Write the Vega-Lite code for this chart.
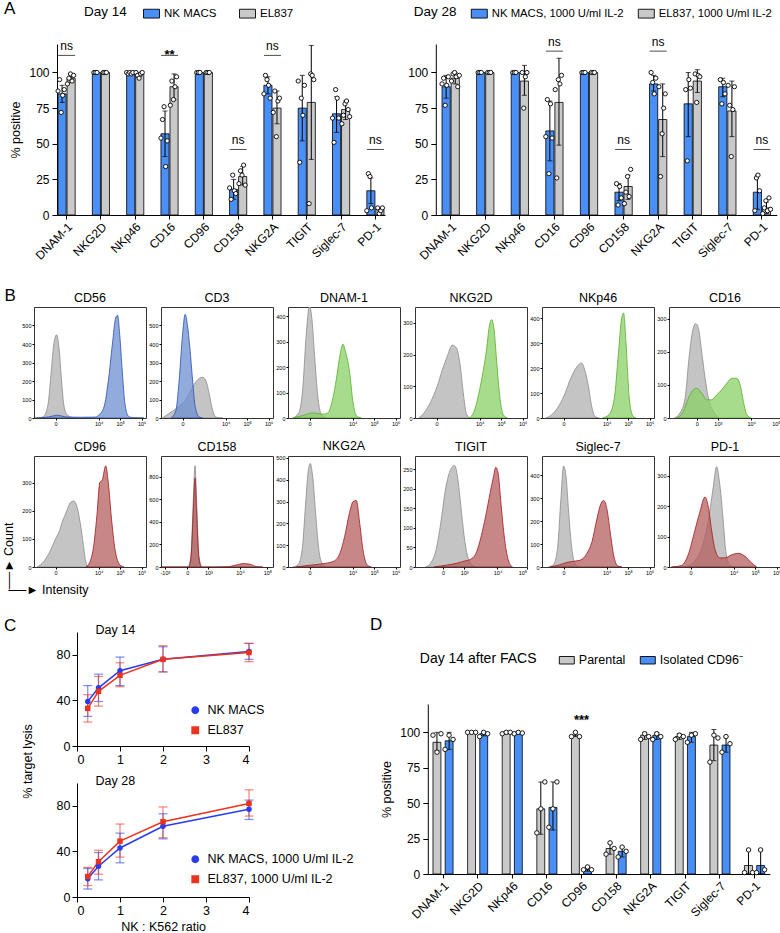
{
"$schema": "https://vega.github.io/schema/vega-lite/v6.json",
"background": "white",
"padding": {"left": 1, "top": 0, "right": 1, "bottom": 0},
"config": {
  "font": "Liberation Sans",
  "view": {"stroke": null},
  "axis": {"grid": false, "domainColor": "black", "tickColor": "black", "labelColor": "black", "titleColor": "black", "titleFontWeight": "normal", "domainWidth": 1, "tickWidth": 1},
  "title": {"fontWeight": "normal", "fontSize": 12.5, "color": "black", "offset": 3},
  "legend": {"titleFontWeight": "normal", "titleColor": "black", "labelColor": "black"}
},
"datasets": {
  "a14": [
    {"m":"DNAM-1","g":"NK","v":85,"lo":79,"hi":91},{"m":"DNAM-1","g":"EL","v":96,"lo":93,"hi":99},
    {"m":"NKG2D","g":"NK","v":100,"lo":100,"hi":100},{"m":"NKG2D","g":"EL","v":100,"lo":100,"hi":100},
    {"m":"NKp46","g":"NK","v":99.7,"lo":99.3,"hi":100},{"m":"NKp46","g":"EL","v":99,"lo":97.5,"hi":100},
    {"m":"CD16","g":"NK","v":57,"lo":41,"hi":73},{"m":"CD16","g":"EL","v":90,"lo":81,"hi":99},
    {"m":"CD96","g":"NK","v":100,"lo":100,"hi":100},{"m":"CD96","g":"EL","v":100,"lo":100,"hi":100},
    {"m":"CD158","g":"NK","v":18,"lo":11,"hi":25},{"m":"CD158","g":"EL","v":27,"lo":21,"hi":34},
    {"m":"NKG2A","g":"NK","v":91,"lo":85,"hi":97},{"m":"NKG2A","g":"EL","v":75,"lo":64,"hi":87},
    {"m":"TIGIT","g":"NK","v":75,"lo":52,"hi":98},{"m":"TIGIT","g":"EL","v":79,"lo":39,"hi":119},
    {"m":"Siglec-7","g":"NK","v":71,"lo":58,"hi":83},{"m":"Siglec-7","g":"EL","v":74,"lo":67,"hi":80},
    {"m":"PD-1","g":"NK","v":17,"lo":8,"hi":26},{"m":"PD-1","g":"EL","v":4,"lo":3,"hi":5}
  ],
  "a14p": [
    {"m":"DNAM-1","g":"NK","r":1,"v":87},{"m":"DNAM-1","g":"NK","r":2,"v":95},{"m":"DNAM-1","g":"NK","r":3,"v":72},{"m":"DNAM-1","g":"NK","r":4,"v":84},{"m":"DNAM-1","g":"NK","r":5,"v":88},
    {"m":"DNAM-1","g":"EL","r":1,"v":92},{"m":"DNAM-1","g":"EL","r":2,"v":96},{"m":"DNAM-1","g":"EL","r":3,"v":99},{"m":"DNAM-1","g":"EL","r":4,"v":94},{"m":"DNAM-1","g":"EL","r":5,"v":98},
    {"m":"NKG2D","g":"NK","r":2,"v":100},{"m":"NKG2D","g":"NK","r":3,"v":100},{"m":"NKG2D","g":"NK","r":4,"v":100},
    {"m":"NKG2D","g":"EL","r":2,"v":100},{"m":"NKG2D","g":"EL","r":3,"v":100},{"m":"NKG2D","g":"EL","r":4,"v":100},
    {"m":"NKp46","g":"NK","r":1,"v":100},{"m":"NKp46","g":"NK","r":2,"v":99},{"m":"NKp46","g":"NK","r":3,"v":100},{"m":"NKp46","g":"NK","r":4,"v":99},{"m":"NKp46","g":"NK","r":5,"v":100},
    {"m":"NKp46","g":"EL","r":1,"v":100},{"m":"NKp46","g":"EL","r":2,"v":98},{"m":"NKp46","g":"EL","r":3,"v":96},{"m":"NKp46","g":"EL","r":4,"v":99},{"m":"NKp46","g":"EL","r":5,"v":100},
    {"m":"CD16","g":"NK","r":1,"v":54},{"m":"CD16","g":"NK","r":2,"v":67},{"m":"CD16","g":"NK","r":3,"v":76},{"m":"CD16","g":"NK","r":4,"v":34},{"m":"CD16","g":"NK","r":5,"v":52},
    {"m":"CD16","g":"EL","r":1,"v":77},{"m":"CD16","g":"EL","r":2,"v":94},{"m":"CD16","g":"EL","r":3,"v":81},{"m":"CD16","g":"EL","r":4,"v":90},{"m":"CD16","g":"EL","r":5,"v":97},
    {"m":"CD96","g":"NK","r":2,"v":100},{"m":"CD96","g":"NK","r":3,"v":100},{"m":"CD96","g":"NK","r":4,"v":100},
    {"m":"CD96","g":"EL","r":2,"v":100},{"m":"CD96","g":"EL","r":3,"v":100},{"m":"CD96","g":"EL","r":4,"v":100},
    {"m":"CD158","g":"NK","r":1,"v":19},{"m":"CD158","g":"NK","r":2,"v":11},{"m":"CD158","g":"NK","r":3,"v":28},{"m":"CD158","g":"NK","r":4,"v":17},{"m":"CD158","g":"NK","r":5,"v":15},
    {"m":"CD158","g":"EL","r":1,"v":22},{"m":"CD158","g":"EL","r":2,"v":31},{"m":"CD158","g":"EL","r":3,"v":28},{"m":"CD158","g":"EL","r":4,"v":35},{"m":"CD158","g":"EL","r":5,"v":21},
    {"m":"NKG2A","g":"NK","r":1,"v":85},{"m":"NKG2A","g":"NK","r":2,"v":98},{"m":"NKG2A","g":"NK","r":3,"v":95},{"m":"NKG2A","g":"NK","r":4,"v":91},{"m":"NKG2A","g":"NK","r":5,"v":82},
    {"m":"NKG2A","g":"EL","r":1,"v":72},{"m":"NKG2A","g":"EL","r":2,"v":87},{"m":"NKG2A","g":"EL","r":3,"v":55},{"m":"NKG2A","g":"EL","r":4,"v":80},{"m":"NKG2A","g":"EL","r":5,"v":82},
    {"m":"TIGIT","g":"NK","r":1,"v":94},{"m":"TIGIT","g":"NK","r":2,"v":37},{"m":"TIGIT","g":"NK","r":3,"v":82},{"m":"TIGIT","g":"NK","r":4,"v":70},{"m":"TIGIT","g":"NK","r":5,"v":91},
    {"m":"TIGIT","g":"EL","r":2,"v":8},{"m":"TIGIT","g":"EL","r":3,"v":99},{"m":"TIGIT","g":"EL","r":4,"v":98},{"m":"TIGIT","g":"EL","r":5,"v":95},
    {"m":"Siglec-7","g":"NK","r":1,"v":68},{"m":"Siglec-7","g":"NK","r":2,"v":51},{"m":"Siglec-7","g":"NK","r":3,"v":88},{"m":"Siglec-7","g":"NK","r":4,"v":82},{"m":"Siglec-7","g":"NK","r":5,"v":68},
    {"m":"Siglec-7","g":"EL","r":1,"v":64},{"m":"Siglec-7","g":"EL","r":2,"v":70},{"m":"Siglec-7","g":"EL","r":3,"v":78},{"m":"Siglec-7","g":"EL","r":4,"v":80},{"m":"Siglec-7","g":"EL","r":5,"v":74},{"m":"Siglec-7","g":"EL","r":6,"v":69},
    {"m":"PD-1","g":"NK","r":1,"v":3},{"m":"PD-1","g":"NK","r":2,"v":29},{"m":"PD-1","g":"NK","r":3,"v":27},{"m":"PD-1","g":"NK","r":4,"v":5},
    {"m":"PD-1","g":"EL","r":2,"v":5},{"m":"PD-1","g":"EL","r":3,"v":1},{"m":"PD-1","g":"EL","r":4,"v":3},{"m":"PD-1","g":"EL","r":5,"v":5}
  ],
  "a14s": [
    {"m":"DNAM-1","lab":"ns","v":112},{"m":"CD16","lab":"**","v":112},{"m":"CD158","lab":"ns","v":46},{"m":"NKG2A","lab":"ns","v":112},{"m":"PD-1","lab":"ns","v":46}
  ],
  "a28": [
    {"m":"DNAM-1","g":"NK","v":90,"lo":82,"hi":98},{"m":"DNAM-1","g":"EL","v":96,"lo":92,"hi":100},
    {"m":"NKG2D","g":"NK","v":100,"lo":100,"hi":100},{"m":"NKG2D","g":"EL","v":100,"lo":100,"hi":100},
    {"m":"NKp46","g":"NK","v":100,"lo":100,"hi":100},{"m":"NKp46","g":"EL","v":94,"lo":84,"hi":105},
    {"m":"CD16","g":"NK","v":59,"lo":38,"hi":80},{"m":"CD16","g":"EL","v":79,"lo":49,"hi":110},
    {"m":"CD96","g":"NK","v":100,"lo":100,"hi":100},{"m":"CD96","g":"EL","v":100,"lo":100,"hi":100},
    {"m":"CD158","g":"NK","v":16,"lo":10,"hi":22},{"m":"CD158","g":"EL","v":20,"lo":11,"hi":28},
    {"m":"NKG2A","g":"NK","v":92,"lo":87,"hi":98},{"m":"NKG2A","g":"EL","v":67,"lo":41,"hi":92},
    {"m":"TIGIT","g":"NK","v":78,"lo":55,"hi":100},{"m":"TIGIT","g":"EL","v":94,"lo":86,"hi":102},
    {"m":"Siglec-7","g":"NK","v":90,"lo":83,"hi":96},{"m":"Siglec-7","g":"EL","v":73,"lo":55,"hi":94},
    {"m":"PD-1","g":"NK","v":16,"lo":4,"hi":28},{"m":"PD-1","g":"EL","v":5,"lo":1,"hi":9}
  ],
  "a28p": [
    {"m":"DNAM-1","g":"NK","r":1,"v":92},{"m":"DNAM-1","g":"NK","r":2,"v":96},{"m":"DNAM-1","g":"NK","r":3,"v":77},{"m":"DNAM-1","g":"NK","r":4,"v":91},{"m":"DNAM-1","g":"NK","r":5,"v":97},
    {"m":"DNAM-1","g":"EL","r":1,"v":94},{"m":"DNAM-1","g":"EL","r":2,"v":99},{"m":"DNAM-1","g":"EL","r":3,"v":100},{"m":"DNAM-1","g":"EL","r":4,"v":97},{"m":"DNAM-1","g":"EL","r":5,"v":90},{"m":"DNAM-1","g":"EL","r":6,"v":98},
    {"m":"NKG2D","g":"NK","r":2,"v":100},{"m":"NKG2D","g":"NK","r":3,"v":100},{"m":"NKG2D","g":"NK","r":4,"v":100},
    {"m":"NKG2D","g":"EL","r":2,"v":100},{"m":"NKG2D","g":"EL","r":3,"v":100},{"m":"NKG2D","g":"EL","r":4,"v":100},
    {"m":"NKp46","g":"NK","r":2,"v":100},{"m":"NKp46","g":"NK","r":3,"v":100},{"m":"NKp46","g":"NK","r":4,"v":100},
    {"m":"NKp46","g":"EL","r":2,"v":100},{"m":"NKp46","g":"EL","r":3,"v":75},{"m":"NKp46","g":"EL","r":4,"v":97},{"m":"NKp46","g":"EL","r":5,"v":100},
    {"m":"CD16","g":"NK","r":1,"v":55},{"m":"CD16","g":"NK","r":2,"v":81},{"m":"CD16","g":"NK","r":3,"v":29},{"m":"CD16","g":"NK","r":4,"v":78},{"m":"CD16","g":"NK","r":5,"v":54},
    {"m":"CD16","g":"EL","r":1,"v":88},{"m":"CD16","g":"EL","r":2,"v":26},{"m":"CD16","g":"EL","r":3,"v":95},{"m":"CD16","g":"EL","r":4,"v":92},{"m":"CD16","g":"EL","r":5,"v":98},
    {"m":"CD96","g":"NK","r":2,"v":100},{"m":"CD96","g":"NK","r":3,"v":100},{"m":"CD96","g":"NK","r":4,"v":100},
    {"m":"CD96","g":"EL","r":2,"v":100},{"m":"CD96","g":"EL","r":3,"v":100},{"m":"CD96","g":"EL","r":4,"v":100},
    {"m":"CD158","g":"NK","r":2,"v":22},{"m":"CD158","g":"NK","r":3,"v":7},{"m":"CD158","g":"NK","r":4,"v":20},{"m":"CD158","g":"NK","r":5,"v":12},
    {"m":"CD158","g":"EL","r":1,"v":8},{"m":"CD158","g":"EL","r":2,"v":16},{"m":"CD158","g":"EL","r":3,"v":27},{"m":"CD158","g":"EL","r":4,"v":13},{"m":"CD158","g":"EL","r":5,"v":32},
    {"m":"NKG2A","g":"NK","r":2,"v":100},{"m":"NKG2A","g":"NK","r":3,"v":93},{"m":"NKG2A","g":"NK","r":4,"v":85},{"m":"NKG2A","g":"NK","r":5,"v":96},
    {"m":"NKG2A","g":"EL","r":1,"v":90},{"m":"NKG2A","g":"EL","r":2,"v":27},{"m":"NKG2A","g":"EL","r":3,"v":57},{"m":"NKG2A","g":"EL","r":4,"v":75},{"m":"NKG2A","g":"EL","r":5,"v":85},
    {"m":"TIGIT","g":"NK","r":2,"v":88},{"m":"TIGIT","g":"NK","r":3,"v":38},{"m":"TIGIT","g":"NK","r":4,"v":95},{"m":"TIGIT","g":"NK","r":5,"v":89},
    {"m":"TIGIT","g":"EL","r":2,"v":99},{"m":"TIGIT","g":"EL","r":3,"v":79},{"m":"TIGIT","g":"EL","r":4,"v":98},{"m":"TIGIT","g":"EL","r":5,"v":97},
    {"m":"Siglec-7","g":"NK","r":2,"v":95},{"m":"Siglec-7","g":"NK","r":3,"v":78},{"m":"Siglec-7","g":"NK","r":4,"v":93},{"m":"Siglec-7","g":"NK","r":5,"v":85},
    {"m":"Siglec-7","g":"EL","r":1,"v":91},{"m":"Siglec-7","g":"EL","r":2,"v":77},{"m":"Siglec-7","g":"EL","r":3,"v":41},{"m":"Siglec-7","g":"EL","r":4,"v":74},{"m":"Siglec-7","g":"EL","r":5,"v":90},
    {"m":"PD-1","g":"NK","r":2,"v":3},{"m":"PD-1","g":"NK","r":3,"v":26},{"m":"PD-1","g":"NK","r":4,"v":28},{"m":"PD-1","g":"NK","r":5,"v":17},
    {"m":"PD-1","g":"EL","r":1,"v":1},{"m":"PD-1","g":"EL","r":2,"v":5},{"m":"PD-1","g":"EL","r":3,"v":10},{"m":"PD-1","g":"EL","r":4,"v":3},{"m":"PD-1","g":"EL","r":5,"v":12},{"m":"PD-1","g":"EL","r":6,"v":4}
  ],
  "a28s": [
    {"m":"CD16","lab":"ns","v":115},{"m":"CD158","lab":"ns","v":46},{"m":"NKG2A","lab":"ns","v":115},{"m":"PD-1","lab":"ns","v":46}
  ],
  "d": [
    {"m":"DNAM-1","g":"P","v":93,"lo":87,"hi":100},{"m":"DNAM-1","g":"I","v":94,"lo":88,"hi":100},
    {"m":"NKG2D","g":"P","v":100,"lo":99.5,"hi":100},{"m":"NKG2D","g":"I","v":99,"lo":97.5,"hi":100},
    {"m":"NKp46","g":"P","v":100,"lo":99,"hi":100},{"m":"NKp46","g":"I","v":100,"lo":99,"hi":100},
    {"m":"CD16","g":"P","v":46,"lo":28,"hi":65},{"m":"CD16","g":"I","v":47,"lo":31,"hi":65},
    {"m":"CD96","g":"P","v":98,"lo":97,"hi":100},{"m":"CD96","g":"I","v":3,"lo":2,"hi":5},
    {"m":"CD158","g":"P","v":18,"lo":14,"hi":22},{"m":"CD158","g":"I","v":16,"lo":12,"hi":19},
    {"m":"NKG2A","g":"P","v":98,"lo":95,"hi":100},{"m":"NKG2A","g":"I","v":98,"lo":95,"hi":100},
    {"m":"TIGIT","g":"P","v":97,"lo":95,"hi":99},{"m":"TIGIT","g":"I","v":97,"lo":93,"hi":100},
    {"m":"Siglec-7","g":"P","v":91,"lo":80,"hi":102},{"m":"Siglec-7","g":"I","v":91,"lo":86,"hi":97},
    {"m":"PD-1","g":"P","v":6,"lo":0,"hi":17},{"m":"PD-1","g":"I","v":6,"lo":0,"hi":17}
  ],
  "dp": [
    {"m":"DNAM-1","g":"P","r":1,"v":98},{"m":"DNAM-1","g":"P","r":2,"v":86},{"m":"DNAM-1","g":"P","r":3,"v":99},
    {"m":"DNAM-1","g":"I","r":1,"v":88},{"m":"DNAM-1","g":"I","r":2,"v":98},{"m":"DNAM-1","g":"I","r":3,"v":95},
    {"m":"NKG2D","g":"P","r":1,"v":100},{"m":"NKG2D","g":"P","r":2,"v":100},{"m":"NKG2D","g":"P","r":3,"v":100},
    {"m":"NKG2D","g":"I","r":1,"v":97},{"m":"NKG2D","g":"I","r":2,"v":100},{"m":"NKG2D","g":"I","r":3,"v":99},
    {"m":"NKp46","g":"P","r":1,"v":99},{"m":"NKp46","g":"P","r":2,"v":100},{"m":"NKp46","g":"P","r":3,"v":100},
    {"m":"NKp46","g":"I","r":1,"v":99},{"m":"NKp46","g":"I","r":2,"v":100},{"m":"NKp46","g":"I","r":3,"v":99.5},
    {"m":"CD16","g":"P","r":1,"v":29},{"m":"CD16","g":"P","r":2,"v":46},{"m":"CD16","g":"P","r":3,"v":65},
    {"m":"CD16","g":"I","r":1,"v":33},{"m":"CD16","g":"I","r":2,"v":46},{"m":"CD16","g":"I","r":3,"v":65},
    {"m":"CD96","g":"P","r":1,"v":97},{"m":"CD96","g":"P","r":2,"v":100},{"m":"CD96","g":"P","r":3,"v":97},
    {"m":"CD96","g":"I","r":1,"v":3},{"m":"CD96","g":"I","r":2,"v":5},{"m":"CD96","g":"I","r":3,"v":3},
    {"m":"CD158","g":"P","r":1,"v":14},{"m":"CD158","g":"P","r":2,"v":22},{"m":"CD158","g":"P","r":3,"v":18},
    {"m":"CD158","g":"I","r":1,"v":12},{"m":"CD158","g":"I","r":2,"v":19},{"m":"CD158","g":"I","r":3,"v":16},
    {"m":"NKG2A","g":"P","r":1,"v":95},{"m":"NKG2A","g":"P","r":2,"v":99},{"m":"NKG2A","g":"P","r":3,"v":97},
    {"m":"NKG2A","g":"I","r":1,"v":95},{"m":"NKG2A","g":"I","r":2,"v":99},{"m":"NKG2A","g":"I","r":3,"v":97},
    {"m":"TIGIT","g":"P","r":1,"v":95},{"m":"TIGIT","g":"P","r":2,"v":98},{"m":"TIGIT","g":"P","r":3,"v":97},
    {"m":"TIGIT","g":"I","r":1,"v":93},{"m":"TIGIT","g":"I","r":2,"v":98},{"m":"TIGIT","g":"I","r":3,"v":99},
    {"m":"Siglec-7","g":"P","r":1,"v":79},{"m":"Siglec-7","g":"P","r":2,"v":98},{"m":"Siglec-7","g":"P","r":3,"v":96},
    {"m":"Siglec-7","g":"I","r":1,"v":86},{"m":"Siglec-7","g":"I","r":2,"v":97},{"m":"Siglec-7","g":"I","r":3,"v":92},
    {"m":"PD-1","g":"P","r":1,"v":1},{"m":"PD-1","g":"P","r":2,"v":17},{"m":"PD-1","g":"P","r":3,"v":1},
    {"m":"PD-1","g":"I","r":1,"v":1},{"m":"PD-1","g":"I","r":2,"v":17},{"m":"PD-1","g":"I","r":3,"v":3}
  ],
  "ds": [{"m":"CD96","lab":"***","v":109}],
  "c14": [
    {"s":"NK","x":0.25,"y":39,"lo":26,"hi":53},{"s":"NK","x":0.5,"y":51,"lo":39,"hi":63},{"s":"NK","x":1,"y":66,"lo":53,"hi":78},{"s":"NK","x":2,"y":76,"lo":65,"hi":87},{"s":"NK","x":4,"y":83,"lo":76,"hi":90},
    {"s":"EL","x":0.25,"y":33,"lo":21,"hi":45},{"s":"EL","x":0.5,"y":48,"lo":35,"hi":61},{"s":"EL","x":1,"y":62,"lo":52,"hi":73},{"s":"EL","x":2,"y":76,"lo":65,"hi":88},{"s":"EL","x":4,"y":82,"lo":74,"hi":90}
  ],
  "c28": [
    {"s":"NK","x":0.25,"y":16,"lo":7,"hi":25},{"s":"NK","x":0.5,"y":27,"lo":15,"hi":39},{"s":"NK","x":1,"y":43,"lo":30,"hi":56},{"s":"NK","x":2,"y":62,"lo":51,"hi":73},{"s":"NK","x":4,"y":77,"lo":68,"hi":85},
    {"s":"EL","x":0.25,"y":18,"lo":10,"hi":26},{"s":"EL","x":0.5,"y":31,"lo":20,"hi":41},{"s":"EL","x":1,"y":49,"lo":35,"hi":64},{"s":"EL","x":2,"y":66,"lo":52,"hi":79},{"s":"EL","x":4,"y":82,"lo":71,"hi":94}
  ],
  "hist": [
    {"m":"CD56","s":"neg","u":-0.78,"n":0},{"m":"CD56","s":"neg","u":-0.54,"n":10},{"m":"CD56","s":"neg","u":-0.34,"n":80},{"m":"CD56","s":"neg","u":-0.2,"n":250},{"m":"CD56","s":"neg","u":-0.08,"n":400},{"m":"CD56","s":"neg","u":0.05,"n":450},{"m":"CD56","s":"neg","u":0.16,"n":380},{"m":"CD56","s":"neg","u":0.28,"n":200},{"m":"CD56","s":"neg","u":0.4,"n":60},{"m":"CD56","s":"neg","u":0.56,"n":15},{"m":"CD56","s":"neg","u":0.85,"n":0},
    {"m":"CD56","s":"pos","u":-0.95,"n":0},{"m":"CD56","s":"pos","u":-0.6,"n":2},{"m":"CD56","s":"pos","u":-0.31,"n":6},{"m":"CD56","s":"pos","u":0.08,"n":15},{"m":"CD56","s":"pos","u":0.54,"n":5},{"m":"CD56","s":"pos","u":1.2,"n":4},{"m":"CD56","s":"pos","u":1.86,"n":5},{"m":"CD56","s":"pos","u":2.0,"n":15},{"m":"CD56","s":"pos","u":2.25,"n":60},{"m":"CD56","s":"pos","u":2.45,"n":200},{"m":"CD56","s":"pos","u":2.64,"n":400},{"m":"CD56","s":"pos","u":2.79,"n":540},{"m":"CD56","s":"pos","u":2.88,"n":555},{"m":"CD56","s":"pos","u":2.98,"n":450},{"m":"CD56","s":"pos","u":3.1,"n":250},{"m":"CD56","s":"pos","u":3.22,"n":80},{"m":"CD56","s":"pos","u":3.38,"n":10},{"m":"CD56","s":"pos","u":3.57,"n":2},{"m":"CD56","s":"pos","u":4.1,"n":0},
    {"m":"CD3","s":"neg","u":-0.93,"n":0},{"m":"CD3","s":"neg","u":-0.62,"n":25},{"m":"CD3","s":"neg","u":-0.31,"n":50},{"m":"CD3","s":"neg","u":0.08,"n":90},{"m":"CD3","s":"neg","u":0.39,"n":150},{"m":"CD3","s":"neg","u":0.59,"n":190},{"m":"CD3","s":"neg","u":0.78,"n":215},{"m":"CD3","s":"neg","u":0.93,"n":220},{"m":"CD3","s":"neg","u":1.09,"n":200},{"m":"CD3","s":"neg","u":1.24,"n":130},{"m":"CD3","s":"neg","u":1.4,"n":40},{"m":"CD3","s":"neg","u":1.55,"n":5},{"m":"CD3","s":"neg","u":1.86,"n":0},
    {"m":"CD3","s":"pos","u":-0.54,"n":0},{"m":"CD3","s":"pos","u":-0.31,"n":40},{"m":"CD3","s":"pos","u":-0.16,"n":200},{"m":"CD3","s":"pos","u":0,"n":450},{"m":"CD3","s":"pos","u":0.12,"n":560},{"m":"CD3","s":"pos","u":0.23,"n":500},{"m":"CD3","s":"pos","u":0.34,"n":380},{"m":"CD3","s":"pos","u":0.47,"n":200},{"m":"CD3","s":"pos","u":0.59,"n":60},{"m":"CD3","s":"pos","u":0.78,"n":5},{"m":"CD3","s":"pos","u":0.93,"n":0},
    {"m":"DNAM-1","s":"neg","u":-0.78,"n":0},{"m":"DNAM-1","s":"neg","u":-0.5,"n":20},{"m":"DNAM-1","s":"neg","u":-0.31,"n":120},{"m":"DNAM-1","s":"neg","u":-0.16,"n":320},{"m":"DNAM-1","s":"neg","u":0,"n":440},{"m":"DNAM-1","s":"neg","u":0.12,"n":380},{"m":"DNAM-1","s":"neg","u":0.23,"n":250},{"m":"DNAM-1","s":"neg","u":0.39,"n":80},{"m":"DNAM-1","s":"neg","u":0.54,"n":15},{"m":"DNAM-1","s":"neg","u":0.78,"n":0},
    {"m":"DNAM-1","s":"pos","u":-0.78,"n":0},{"m":"DNAM-1","s":"pos","u":-0.31,"n":10},{"m":"DNAM-1","s":"pos","u":0.16,"n":20},{"m":"DNAM-1","s":"pos","u":0.62,"n":15},{"m":"DNAM-1","s":"pos","u":0.85,"n":20},{"m":"DNAM-1","s":"pos","u":1.09,"n":80},{"m":"DNAM-1","s":"pos","u":1.24,"n":150},{"m":"DNAM-1","s":"pos","u":1.4,"n":240},{"m":"DNAM-1","s":"pos","u":1.55,"n":290},{"m":"DNAM-1","s":"pos","u":1.67,"n":260},{"m":"DNAM-1","s":"pos","u":1.86,"n":180},{"m":"DNAM-1","s":"pos","u":2.02,"n":60},{"m":"DNAM-1","s":"pos","u":2.17,"n":10},{"m":"DNAM-1","s":"pos","u":2.4,"n":0},
    {"m":"NKG2D","s":"neg","u":-0.82,"n":0},{"m":"NKG2D","s":"neg","u":-0.59,"n":15},{"m":"NKG2D","s":"neg","u":-0.28,"n":50},{"m":"NKG2D","s":"neg","u":0.03,"n":100},{"m":"NKG2D","s":"neg","u":0.26,"n":150},{"m":"NKG2D","s":"neg","u":0.5,"n":195},{"m":"NKG2D","s":"neg","u":0.73,"n":230},{"m":"NKG2D","s":"neg","u":0.93,"n":220},{"m":"NKG2D","s":"neg","u":1.09,"n":170},{"m":"NKG2D","s":"neg","u":1.24,"n":80},{"m":"NKG2D","s":"neg","u":1.4,"n":10},{"m":"NKG2D","s":"neg","u":1.58,"n":0},
    {"m":"NKG2D","s":"pos","u":1.5,"n":0},{"m":"NKG2D","s":"pos","u":1.74,"n":20},{"m":"NKG2D","s":"pos","u":1.97,"n":80},{"m":"NKG2D","s":"pos","u":2.17,"n":150},{"m":"NKG2D","s":"pos","u":2.33,"n":220},{"m":"NKG2D","s":"pos","u":2.43,"n":280},{"m":"NKG2D","s":"pos","u":2.56,"n":310},{"m":"NKG2D","s":"pos","u":2.67,"n":280},{"m":"NKG2D","s":"pos","u":2.79,"n":180},{"m":"NKG2D","s":"pos","u":2.95,"n":60},{"m":"NKG2D","s":"pos","u":3.1,"n":10},{"m":"NKG2D","s":"pos","u":3.29,"n":0},
    {"m":"NKp46","s":"neg","u":-0.82,"n":0},{"m":"NKp46","s":"neg","u":-0.59,"n":10},{"m":"NKp46","s":"neg","u":-0.28,"n":40},{"m":"NKp46","s":"neg","u":0.03,"n":90},{"m":"NKp46","s":"neg","u":0.34,"n":160},{"m":"NKp46","s":"neg","u":0.62,"n":205},{"m":"NKp46","s":"neg","u":0.84,"n":220},{"m":"NKp46","s":"neg","u":0.99,"n":190},{"m":"NKp46","s":"neg","u":1.15,"n":130},{"m":"NKp46","s":"neg","u":1.3,"n":50},{"m":"NKp46","s":"neg","u":1.47,"n":5},{"m":"NKp46","s":"neg","u":1.66,"n":0},
    {"m":"NKp46","s":"pos","u":1.81,"n":0},{"m":"NKp46","s":"pos","u":2.12,"n":15},{"m":"NKp46","s":"pos","u":2.36,"n":80},{"m":"NKp46","s":"pos","u":2.54,"n":250},{"m":"NKp46","s":"pos","u":2.7,"n":400},{"m":"NKp46","s":"pos","u":2.79,"n":420},{"m":"NKp46","s":"pos","u":2.9,"n":300},{"m":"NKp46","s":"pos","u":3.05,"n":80},{"m":"NKp46","s":"pos","u":3.21,"n":10},{"m":"NKp46","s":"pos","u":3.36,"n":0},
    {"m":"CD16","s":"neg","u":-1.04,"n":0},{"m":"CD16","s":"neg","u":-0.78,"n":15},{"m":"CD16","s":"neg","u":-0.54,"n":60},{"m":"CD16","s":"neg","u":-0.36,"n":180},{"m":"CD16","s":"neg","u":-0.2,"n":260},{"m":"CD16","s":"neg","u":-0.05,"n":285},{"m":"CD16","s":"neg","u":0.08,"n":270},{"m":"CD16","s":"neg","u":0.23,"n":200},{"m":"CD16","s":"neg","u":0.39,"n":120},{"m":"CD16","s":"neg","u":0.54,"n":60},{"m":"CD16","s":"neg","u":0.78,"n":20},{"m":"CD16","s":"neg","u":1.01,"n":0},
    {"m":"CD16","s":"pos","u":-0.93,"n":0},{"m":"CD16","s":"pos","u":-0.62,"n":20},{"m":"CD16","s":"pos","u":-0.39,"n":60},{"m":"CD16","s":"pos","u":-0.16,"n":85},{"m":"CD16","s":"pos","u":0,"n":90},{"m":"CD16","s":"pos","u":0.23,"n":75},{"m":"CD16","s":"pos","u":0.47,"n":55},{"m":"CD16","s":"pos","u":0.7,"n":55},{"m":"CD16","s":"pos","u":0.93,"n":70},{"m":"CD16","s":"pos","u":1.16,"n":85},{"m":"CD16","s":"pos","u":1.4,"n":105},{"m":"CD16","s":"pos","u":1.63,"n":120},{"m":"CD16","s":"pos","u":1.86,"n":120},{"m":"CD16","s":"pos","u":2.02,"n":100},{"m":"CD16","s":"pos","u":2.17,"n":50},{"m":"CD16","s":"pos","u":2.33,"n":10},{"m":"CD16","s":"pos","u":2.53,"n":0},
    {"m":"CD96","s":"neg","u":-0.85,"n":0},{"m":"CD96","s":"neg","u":-0.54,"n":20},{"m":"CD96","s":"neg","u":-0.23,"n":60},{"m":"CD96","s":"neg","u":0,"n":100},{"m":"CD96","s":"neg","u":0.19,"n":130},{"m":"CD96","s":"neg","u":0.31,"n":160},{"m":"CD96","s":"neg","u":0.47,"n":190},{"m":"CD96","s":"neg","u":0.7,"n":230},{"m":"CD96","s":"neg","u":0.85,"n":235},{"m":"CD96","s":"neg","u":1.01,"n":210},{"m":"CD96","s":"neg","u":1.16,"n":150},{"m":"CD96","s":"neg","u":1.29,"n":80},{"m":"CD96","s":"neg","u":1.4,"n":20},{"m":"CD96","s":"neg","u":1.52,"n":0},
    {"m":"CD96","s":"pos","u":1.4,"n":0},{"m":"CD96","s":"pos","u":1.58,"n":15},{"m":"CD96","s":"pos","u":1.78,"n":80},{"m":"CD96","s":"pos","u":1.94,"n":200},{"m":"CD96","s":"pos","u":2.05,"n":300},{"m":"CD96","s":"pos","u":2.17,"n":310},{"m":"CD96","s":"pos","u":2.33,"n":360},{"m":"CD96","s":"pos","u":2.45,"n":300},{"m":"CD96","s":"pos","u":2.6,"n":170},{"m":"CD96","s":"pos","u":2.79,"n":50},{"m":"CD96","s":"pos","u":3.02,"n":5},{"m":"CD96","s":"pos","u":3.18,"n":0},
    {"m":"CD158","s":"neg","u":0.05,"n":0},{"m":"CD158","s":"neg","u":0.17,"n":100},{"m":"CD158","s":"neg","u":0.28,"n":600},{"m":"CD158","s":"neg","u":0.36,"n":900},{"m":"CD158","s":"neg","u":0.43,"n":600},{"m":"CD158","s":"neg","u":0.54,"n":100},{"m":"CD158","s":"neg","u":0.67,"n":0},
    {"m":"CD158","s":"pos","u":-1.2,"n":0},{"m":"CD158","s":"pos","u":0.05,"n":0},{"m":"CD158","s":"pos","u":0.17,"n":80},{"m":"CD158","s":"pos","u":0.28,"n":500},{"m":"CD158","s":"pos","u":0.36,"n":790},{"m":"CD158","s":"pos","u":0.43,"n":500},{"m":"CD158","s":"pos","u":0.54,"n":80},{"m":"CD158","s":"pos","u":0.67,"n":0},{"m":"CD158","s":"pos","u":1.29,"n":0},{"m":"CD158","s":"pos","u":1.91,"n":3},{"m":"CD158","s":"pos","u":2.22,"n":15},{"m":"CD158","s":"pos","u":2.6,"n":30},{"m":"CD158","s":"pos","u":2.91,"n":25},{"m":"CD158","s":"pos","u":3.22,"n":3},{"m":"CD158","s":"pos","u":3.5,"n":0},
    {"m":"NKG2A","s":"neg","u":-0.78,"n":0},{"m":"NKG2A","s":"neg","u":-0.54,"n":10},{"m":"NKG2A","s":"neg","u":-0.34,"n":80},{"m":"NKG2A","s":"neg","u":-0.19,"n":280},{"m":"NKG2A","s":"neg","u":-0.06,"n":440},{"m":"NKG2A","s":"neg","u":0.03,"n":475},{"m":"NKG2A","s":"neg","u":0.16,"n":400},{"m":"NKG2A","s":"neg","u":0.28,"n":250},{"m":"NKG2A","s":"neg","u":0.43,"n":80},{"m":"NKG2A","s":"neg","u":0.59,"n":15},{"m":"NKG2A","s":"neg","u":0.78,"n":0},
    {"m":"NKG2A","s":"pos","u":-0.62,"n":0},{"m":"NKG2A","s":"pos","u":0,"n":8},{"m":"NKG2A","s":"pos","u":0.62,"n":15},{"m":"NKG2A","s":"pos","u":1.09,"n":25},{"m":"NKG2A","s":"pos","u":1.4,"n":60},{"m":"NKG2A","s":"pos","u":1.63,"n":140},{"m":"NKG2A","s":"pos","u":1.86,"n":250},{"m":"NKG2A","s":"pos","u":2.02,"n":300},{"m":"NKG2A","s":"pos","u":2.17,"n":305},{"m":"NKG2A","s":"pos","u":2.33,"n":200},{"m":"NKG2A","s":"pos","u":2.48,"n":80},{"m":"NKG2A","s":"pos","u":2.67,"n":10},{"m":"NKG2A","s":"pos","u":2.87,"n":0},
    {"m":"TIGIT","s":"neg","u":-0.81,"n":0},{"m":"TIGIT","s":"neg","u":-0.57,"n":10},{"m":"TIGIT","s":"neg","u":-0.34,"n":40},{"m":"TIGIT","s":"neg","u":-0.11,"n":110},{"m":"TIGIT","s":"neg","u":0.12,"n":200},{"m":"TIGIT","s":"neg","u":0.36,"n":250},{"m":"TIGIT","s":"neg","u":0.54,"n":260},{"m":"TIGIT","s":"neg","u":0.7,"n":220},{"m":"TIGIT","s":"neg","u":0.82,"n":160},{"m":"TIGIT","s":"neg","u":0.98,"n":80},{"m":"TIGIT","s":"neg","u":1.13,"n":30},{"m":"TIGIT","s":"neg","u":1.32,"n":8},{"m":"TIGIT","s":"neg","u":1.52,"n":0},
    {"m":"TIGIT","s":"pos","u":-0.42,"n":0},{"m":"TIGIT","s":"pos","u":0.2,"n":5},{"m":"TIGIT","s":"pos","u":0.67,"n":10},{"m":"TIGIT","s":"pos","u":0.98,"n":15},{"m":"TIGIT","s":"pos","u":1.29,"n":20},{"m":"TIGIT","s":"pos","u":1.57,"n":40},{"m":"TIGIT","s":"pos","u":1.78,"n":80},{"m":"TIGIT","s":"pos","u":1.98,"n":130},{"m":"TIGIT","s":"pos","u":2.19,"n":190},{"m":"TIGIT","s":"pos","u":2.34,"n":230},{"m":"TIGIT","s":"pos","u":2.45,"n":255},{"m":"TIGIT","s":"pos","u":2.56,"n":240},{"m":"TIGIT","s":"pos","u":2.68,"n":170},{"m":"TIGIT","s":"pos","u":2.84,"n":80},{"m":"TIGIT","s":"pos","u":3.02,"n":20},{"m":"TIGIT","s":"pos","u":3.22,"n":0},
    {"m":"Siglec-7","s":"neg","u":-0.7,"n":0},{"m":"Siglec-7","s":"neg","u":-0.47,"n":10},{"m":"Siglec-7","s":"neg","u":-0.28,"n":80},{"m":"Siglec-7","s":"neg","u":-0.12,"n":300},{"m":"Siglec-7","s":"neg","u":0,"n":440},{"m":"Siglec-7","s":"neg","u":0.11,"n":400},{"m":"Siglec-7","s":"neg","u":0.23,"n":250},{"m":"Siglec-7","s":"neg","u":0.36,"n":100},{"m":"Siglec-7","s":"neg","u":0.51,"n":20},{"m":"Siglec-7","s":"neg","u":0.7,"n":0},
    {"m":"Siglec-7","s":"pos","u":-0.62,"n":0},{"m":"Siglec-7","s":"pos","u":-0.16,"n":10},{"m":"Siglec-7","s":"pos","u":0.16,"n":20},{"m":"Siglec-7","s":"pos","u":0.47,"n":25},{"m":"Siglec-7","s":"pos","u":0.78,"n":30},{"m":"Siglec-7","s":"pos","u":1.09,"n":60},{"m":"Siglec-7","s":"pos","u":1.32,"n":110},{"m":"Siglec-7","s":"pos","u":1.55,"n":210},{"m":"Siglec-7","s":"pos","u":1.71,"n":270},{"m":"Siglec-7","s":"pos","u":1.86,"n":290},{"m":"Siglec-7","s":"pos","u":2.02,"n":250},{"m":"Siglec-7","s":"pos","u":2.17,"n":150},{"m":"Siglec-7","s":"pos","u":2.33,"n":50},{"m":"Siglec-7","s":"pos","u":2.51,"n":5},{"m":"Siglec-7","s":"pos","u":2.71,"n":0},
    {"m":"PD-1","s":"neg","u":-0.26,"n":0},{"m":"PD-1","s":"neg","u":0.2,"n":20},{"m":"PD-1","s":"neg","u":0.51,"n":60},{"m":"PD-1","s":"neg","u":0.82,"n":150},{"m":"PD-1","s":"neg","u":1.05,"n":260},{"m":"PD-1","s":"neg","u":1.21,"n":330},{"m":"PD-1","s":"neg","u":1.36,"n":270},{"m":"PD-1","s":"neg","u":1.52,"n":150},{"m":"PD-1","s":"neg","u":1.64,"n":50},{"m":"PD-1","s":"neg","u":1.83,"n":5},{"m":"PD-1","s":"neg","u":2.06,"n":0},
    {"m":"PD-1","s":"pos","u":-0.88,"n":0},{"m":"PD-1","s":"pos","u":-0.42,"n":5},{"m":"PD-1","s":"pos","u":-0.11,"n":40},{"m":"PD-1","s":"pos","u":0.2,"n":120},{"m":"PD-1","s":"pos","u":0.43,"n":180},{"m":"PD-1","s":"pos","u":0.67,"n":230},{"m":"PD-1","s":"pos","u":0.82,"n":200},{"m":"PD-1","s":"pos","u":0.98,"n":120},{"m":"PD-1","s":"pos","u":1.13,"n":60},{"m":"PD-1","s":"pos","u":1.36,"n":30},{"m":"PD-1","s":"pos","u":1.6,"n":30},{"m":"PD-1","s":"pos","u":1.91,"n":40},{"m":"PD-1","s":"pos","u":2.22,"n":45},{"m":"PD-1","s":"pos","u":2.53,"n":35},{"m":"PD-1","s":"pos","u":2.81,"n":15},{"m":"PD-1","s":"pos","u":3.07,"n":0}
  ]
},
"columns": 11,
"bounds": "flush",
"align": "each",
"spacing": 0,
"resolve": {"scale": {"fill": "independent", "color": "independent", "shape": "independent", "xOffset": "independent"}},
"concat": [
  {
    "width": 112, "height": 171,
    "title": {"text": "A", "anchor": "start", "frame": "group", "fontSize": 17, "dx": -30, "dy": 16},
    "encoding": {"x": {"field": "m", "type": "nominal", "scale": {"domain": ["DNAM-1","NKG2D","NKp46","CD16","CD96","CD158","NKG2A","TIGIT","Siglec-7","PD-1"], "range": [23, 351], "paddingInner": 0.5, "paddingOuter": 0.03}, "axis": {"title": null, "labelAngle": -45, "labelFontSize": 12, "tickSize": 4, "labelPadding": 2}}},
    "resolve": {"scale": {"xOffset": "independent"}},
    "layer": [
      {"data": {"name": "a14"}, "mark": {"type": "bar", "stroke": "black", "strokeWidth": 0.8},
       "encoding": {"xOffset": {"field": "g", "type": "nominal", "scale": {"domain": ["NK","EL"], "paddingInner": 0.1, "paddingOuter": 0}},
         "y": {"field": "v", "type": "quantitative", "scale": {"domain": [0,120], "nice": false}, "axis": {"values": [0,25,50,75,100], "labelOverlap": false, "title": "% positive", "labelFontSize": 12, "titleFontSize": 12.5, "tickSize": 5, "labelPadding": 3, "titlePadding": 6, "offset": -23}},
         "fill": {"field": "g", "type": "nominal", "scale": {"domain": ["NK","EL"], "range": ["#4a8ff5","#c9c9c9"]},
           "legend": {"orient": "none", "legendX": 50, "legendY": -39, "direction": "horizontal", "title": "Day 14", "titleOrient": "left", "titleFontSize": 13.5, "titlePadding": 16, "labelFontSize": 11.5, "labelOffset": 4, "columnPadding": 20, "symbolType": "M-1,-0.55H1V0.55H-1Z", "symbolSize": 256, "symbolStrokeColor": "black", "symbolStrokeWidth": 0.9, "labelExpr": "datum.label === 'NK' ? 'NK MACS' : 'EL837'"}}}},
      {"data": {"name": "a14"}, "mark": {"type": "rule", "color": "black", "strokeWidth": 1},
       "encoding": {"xOffset": {"field": "g", "type": "nominal", "scale": {"domain": ["NK","EL"], "paddingInner": 0.1, "paddingOuter": 0}},
         "y": {"field": "lo", "type": "quantitative", "scale": {"domain": [0,120], "nice": false}}, "y2": {"field": "hi"}}},
      {"data": {"name": "a14"}, "mark": {"type": "tick", "orient": "horizontal", "size": 5, "thickness": 1, "color": "black"},
       "encoding": {"xOffset": {"field": "g", "type": "nominal", "scale": {"domain": ["NK","EL"], "paddingInner": 0.1, "paddingOuter": 0}},
         "y": {"field": "hi", "type": "quantitative", "scale": {"domain": [0,120], "nice": false}}}},
      {"data": {"name": "a14"}, "mark": {"type": "tick", "orient": "horizontal", "size": 5, "thickness": 1, "color": "black"},
       "encoding": {"xOffset": {"field": "g", "type": "nominal", "scale": {"domain": ["NK","EL"], "paddingInner": 0.1, "paddingOuter": 0}},
         "y": {"field": "lo", "type": "quantitative", "scale": {"domain": [0,120], "nice": false}}}},
      {"data": {"name": "a14p"}, "transform": [{"calculate": "datum.g + '|' + datum.r", "as": "k"}],
       "mark": {"type": "point", "shape": "circle", "filled": true, "fill": "white", "stroke": "black", "strokeWidth": 0.9, "size": 18, "opacity": 1},
       "encoding": {"xOffset": {"field": "k", "type": "nominal", "scale": {"domain": ["NK|1","NK|2","NK|3","NK|4","NK|5","NK|6","EL|1","EL|2","EL|3","EL|4","EL|5","EL|6"], "paddingInner": 0, "paddingOuter": 0}},
         "y": {"field": "v", "type": "quantitative", "scale": {"domain": [0,120], "nice": false}}}},
      {"data": {"name": "a14s"}, "mark": {"type": "tick", "orient": "horizontal", "size": 17, "thickness": 1, "color": "black"},
       "encoding": {"y": {"field": "v", "type": "quantitative", "scale": {"domain": [0,120], "nice": false}}}},
      {"data": {"name": "a14s"}, "transform": [{"filter": "datum.lab === 'ns'"}], "mark": {"type": "text", "baseline": "bottom", "dy": -2, "fontSize": 12},
       "encoding": {"y": {"field": "v", "type": "quantitative", "scale": {"domain": [0,120], "nice": false}}, "text": {"field": "lab"}}},
      {"data": {"name": "a14s"}, "transform": [{"filter": "datum.lab !== 'ns'"}], "mark": {"type": "text", "baseline": "alphabetic", "dy": 4, "fontSize": 13, "fontWeight": "bold"},
       "encoding": {"y": {"field": "v", "type": "quantitative", "scale": {"domain": [0,120], "nice": false}}, "text": {"field": "lab"}}}
    ]
  },
  {"width": 14.4, "height": 263, "data": {"values": []}, "mark": "point"},
  {"width": 1, "height": 1, "data": {"values": []}, "mark": "point"},
  {"width": 1, "height": 1, "data": {"values": []}, "mark": "point"},
  {"width": 1, "height": 1, "data": {"values": []}, "mark": "point"},
  {"width": 1, "height": 1, "data": {"values": []}, "mark": "point"},
  {
    "width": 112, "height": 171,
    "encoding": {"x": {"field": "m", "type": "nominal", "scale": {"domain": ["DNAM-1","NKG2D","NKp46","CD16","CD96","CD158","NKG2A","TIGIT","Siglec-7","PD-1"], "range": [20.8, 361.8], "paddingInner": 0.5, "paddingOuter": 0.18}, "axis": {"title": null, "labelAngle": -45, "labelFontSize": 12, "tickSize": 4, "labelPadding": 2}}},
    "resolve": {"scale": {"xOffset": "independent"}},
    "layer": [
      {"data": {"name": "a28"}, "mark": {"type": "bar", "stroke": "black", "strokeWidth": 0.8},
       "encoding": {"xOffset": {"field": "g", "type": "nominal", "scale": {"domain": ["NK","EL"], "paddingInner": 0.1, "paddingOuter": 0}},
         "y": {"field": "v", "type": "quantitative", "scale": {"domain": [0,120], "nice": false}, "axis": {"values": [0,25,50,75,100], "labelOverlap": false, "title": null, "labelFontSize": 12, "tickSize": 5, "labelPadding": 3, "offset": -20.8}},
         "fill": {"field": "g", "type": "nominal", "scale": {"domain": ["NK","EL"], "range": ["#4a8ff5","#c9c9c9"]},
           "legend": {"orient": "none", "legendX": -1.2, "legendY": -39, "direction": "horizontal", "title": "Day 28", "titleOrient": "left", "titleFontSize": 13.5, "titlePadding": 14, "labelFontSize": 11.3, "labelOffset": 4, "columnPadding": 12, "symbolType": "M-1,-0.55H1V0.55H-1Z", "symbolSize": 256, "symbolStrokeColor": "black", "symbolStrokeWidth": 0.9, "labelExpr": "datum.label === 'NK' ? 'NK MACS, 1000 U/ml IL-2' : 'EL837, 1000 U/ml IL-2'"}}}},
      {"data": {"name": "a28"}, "mark": {"type": "rule", "color": "black", "strokeWidth": 1},
       "encoding": {"xOffset": {"field": "g", "type": "nominal", "scale": {"domain": ["NK","EL"], "paddingInner": 0.1, "paddingOuter": 0}},
         "y": {"field": "lo", "type": "quantitative", "scale": {"domain": [0,120], "nice": false}}, "y2": {"field": "hi"}}},
      {"data": {"name": "a28"}, "mark": {"type": "tick", "orient": "horizontal", "size": 5, "thickness": 1, "color": "black"},
       "encoding": {"xOffset": {"field": "g", "type": "nominal", "scale": {"domain": ["NK","EL"], "paddingInner": 0.1, "paddingOuter": 0}},
         "y": {"field": "hi", "type": "quantitative", "scale": {"domain": [0,120], "nice": false}}}},
      {"data": {"name": "a28"}, "mark": {"type": "tick", "orient": "horizontal", "size": 5, "thickness": 1, "color": "black"},
       "encoding": {"xOffset": {"field": "g", "type": "nominal", "scale": {"domain": ["NK","EL"], "paddingInner": 0.1, "paddingOuter": 0}},
         "y": {"field": "lo", "type": "quantitative", "scale": {"domain": [0,120], "nice": false}}}},
      {"data": {"name": "a28p"}, "transform": [{"calculate": "datum.g + '|' + datum.r", "as": "k"}],
       "mark": {"type": "point", "shape": "circle", "filled": true, "fill": "white", "stroke": "black", "strokeWidth": 0.9, "size": 18, "opacity": 1},
       "encoding": {"xOffset": {"field": "k", "type": "nominal", "scale": {"domain": ["NK|1","NK|2","NK|3","NK|4","NK|5","NK|6","EL|1","EL|2","EL|3","EL|4","EL|5","EL|6"], "paddingInner": 0, "paddingOuter": 0}},
         "y": {"field": "v", "type": "quantitative", "scale": {"domain": [0,120], "nice": false}}}},
      {"data": {"name": "a28s"}, "mark": {"type": "tick", "orient": "horizontal", "size": 17, "thickness": 1, "color": "black"},
       "encoding": {"y": {"field": "v", "type": "quantitative", "scale": {"domain": [0,120], "nice": false}}}},
      {"data": {"name": "a28s"}, "mark": {"type": "text", "baseline": "bottom", "dy": -2, "fontSize": 12},
       "encoding": {"y": {"field": "v", "type": "quantitative", "scale": {"domain": [0,120], "nice": false}}, "text": {"field": "lab"}}}
    ]
  },
  {"width": 1, "height": 1, "data": {"values": []}, "mark": "point"},
  {"width": 1, "height": 1, "data": {"values": []}, "mark": "point"},
  {"width": 1, "height": 1, "data": {"values": []}, "mark": "point"},
  {"width": 1, "height": 1, "data": {"values": []}, "mark": "point"},

  {"width": 112, "height": 111, "view": {"stroke": "#333"}, "title": {"text": "CD56", "dy": 21}, "data": {"name": "hist"}, "transform": [{"filter": "datum.m === 'CD56'"}],
   "encoding": {"x": {"field": "u", "type": "quantitative", "scale": {"domain": [-1.0, 4.2], "nice": false, "zero": false}, "axis": {"values": [0,2,3,4], "labelExpr": "datum.value === 0 ? '0' : datum.value === 2 ? '10⁴' : datum.value === 3 ? '10⁵' : '10⁶'", "title": null, "labelFontSize": 5.5, "tickSize": 2, "labelPadding": 1, "domain": false}},
     "y": {"field": "n", "type": "quantitative", "scale": {"domain": [0, 600], "nice": false}, "axis": {"values": [0,100,200,300,400,500], "labelFontSize": 5.5, "tickSize": 2, "labelPadding": 1, "domain": false, "title": "B", "titleFontSize": 17, "titleAngle": 0, "titleX": -30, "titleY": -20, "titleAlign": "left", "titleBaseline": "top"}}},
   "layer": [
     {"transform": [{"filter": "datum.s === 'neg'"}], "mark": {"type": "area", "interpolate": "monotone", "fill": "#c4c4c4", "stroke": "#8a8a8a", "strokeWidth": 0.8, "clip": true}},
     {"transform": [{"filter": "datum.s === 'pos'"}], "mark": {"type": "area", "interpolate": "monotone", "fill": "#6b8fd0", "fillOpacity": 0.75, "stroke": "#2c4fae", "strokeWidth": 0.8, "clip": true}}
   ]},
  {"width": 14.4, "height": 149, "data": {"values": []}, "mark": "point"},
  {"width": 112, "height": 111, "view": {"stroke": "#333"}, "title": "CD3", "data": {"name": "hist"}, "transform": [{"filter": "datum.m === 'CD3'"}],
   "encoding": {"x": {"field": "u", "type": "quantitative", "scale": {"domain": [-1.0, 4.2], "nice": false, "zero": false}, "axis": {"values": [0,2,3,4], "labelExpr": "datum.value === 0 ? '0' : datum.value === 2 ? '10⁴' : datum.value === 3 ? '10⁵' : '10⁶'", "title": null, "labelFontSize": 5.5, "tickSize": 2, "labelPadding": 1, "domain": false}},
     "y": {"field": "n", "type": "quantitative", "scale": {"domain": [0, 600], "nice": false}, "axis": {"values": [0,100,200,300,400,500], "labelFontSize": 5.5, "tickSize": 2, "labelPadding": 1, "domain": false, "title": null}}},
   "layer": [
     {"transform": [{"filter": "datum.s === 'neg'"}], "mark": {"type": "area", "interpolate": "monotone", "fill": "#c4c4c4", "stroke": "#8a8a8a", "strokeWidth": 0.8, "clip": true}},
     {"transform": [{"filter": "datum.s === 'pos'"}], "mark": {"type": "area", "interpolate": "monotone", "fill": "#6b8fd0", "fillOpacity": 0.75, "stroke": "#2c4fae", "strokeWidth": 0.8, "clip": true}}
   ]},
  {"width": 14.4, "height": 1, "data": {"values": []}, "mark": "point"},
  {"width": 112, "height": 111, "view": {"stroke": "#333"}, "title": "DNAM-1", "data": {"name": "hist"}, "transform": [{"filter": "datum.m === 'DNAM-1'"}],
   "encoding": {"x": {"field": "u", "type": "quantitative", "scale": {"domain": [-1.0, 4.2], "nice": false, "zero": false}, "axis": {"values": [0,2,3,4], "labelExpr": "datum.value === 0 ? '0' : datum.value === 2 ? '10⁴' : datum.value === 3 ? '10⁵' : '10⁶'", "title": null, "labelFontSize": 5.5, "tickSize": 2, "labelPadding": 1, "domain": false}},
     "y": {"field": "n", "type": "quantitative", "scale": {"domain": [0, 436], "nice": false}, "axis": {"values": [0,100,200,300,400], "labelFontSize": 5.5, "tickSize": 2, "labelPadding": 1, "domain": false, "title": null}}},
   "layer": [
     {"transform": [{"filter": "datum.s === 'neg'"}], "mark": {"type": "area", "interpolate": "monotone", "fill": "#c4c4c4", "stroke": "#8a8a8a", "strokeWidth": 0.8, "clip": true}},
     {"transform": [{"filter": "datum.s === 'pos'"}], "mark": {"type": "area", "interpolate": "monotone", "fill": "#88d066", "fillOpacity": 0.75, "stroke": "#54b027", "strokeWidth": 0.8, "clip": true}}
   ]},
  {"width": 14.4, "height": 1, "data": {"values": []}, "mark": "point"},
  {"width": 112, "height": 111, "view": {"stroke": "#333"}, "title": "NKG2D", "data": {"name": "hist"}, "transform": [{"filter": "datum.m === 'NKG2D'"}],
   "encoding": {"x": {"field": "u", "type": "quantitative", "scale": {"domain": [-1.0, 4.2], "nice": false, "zero": false}, "axis": {"values": [0,2,3,4], "labelExpr": "datum.value === 0 ? '0' : datum.value === 2 ? '10⁴' : datum.value === 3 ? '10⁵' : '10⁶'", "title": null, "labelFontSize": 5.5, "tickSize": 2, "labelPadding": 1, "domain": false}},
     "y": {"field": "n", "type": "quantitative", "scale": {"domain": [0, 350], "nice": false}, "axis": {"values": [0,100,200,300], "labelFontSize": 5.5, "tickSize": 2, "labelPadding": 1, "domain": false, "title": null}}},
   "layer": [
     {"transform": [{"filter": "datum.s === 'neg'"}], "mark": {"type": "area", "interpolate": "monotone", "fill": "#c4c4c4", "stroke": "#8a8a8a", "strokeWidth": 0.8, "clip": true}},
     {"transform": [{"filter": "datum.s === 'pos'"}], "mark": {"type": "area", "interpolate": "monotone", "fill": "#88d066", "fillOpacity": 0.75, "stroke": "#54b027", "strokeWidth": 0.8, "clip": true}}
   ]},
  {"width": 14.4, "height": 1, "data": {"values": []}, "mark": "point"},
  {"width": 112, "height": 111, "view": {"stroke": "#333"}, "title": "NKp46", "data": {"name": "hist"}, "transform": [{"filter": "datum.m === 'NKp46'"}],
   "encoding": {"x": {"field": "u", "type": "quantitative", "scale": {"domain": [-1.0, 4.2], "nice": false, "zero": false}, "axis": {"values": [0,2,3,4], "labelExpr": "datum.value === 0 ? '0' : datum.value === 2 ? '10⁴' : datum.value === 3 ? '10⁵' : '10⁶'", "title": null, "labelFontSize": 5.5, "tickSize": 2, "labelPadding": 1, "domain": false}},
     "y": {"field": "n", "type": "quantitative", "scale": {"domain": [0, 444], "nice": false}, "axis": {"values": [0,100,200,300,400], "labelFontSize": 5.5, "tickSize": 2, "labelPadding": 1, "domain": false, "title": null}}},
   "layer": [
     {"transform": [{"filter": "datum.s === 'neg'"}], "mark": {"type": "area", "interpolate": "monotone", "fill": "#c4c4c4", "stroke": "#8a8a8a", "strokeWidth": 0.8, "clip": true}},
     {"transform": [{"filter": "datum.s === 'pos'"}], "mark": {"type": "area", "interpolate": "monotone", "fill": "#88d066", "fillOpacity": 0.75, "stroke": "#54b027", "strokeWidth": 0.8, "clip": true}}
   ]},
  {"width": 14.4, "height": 1, "data": {"values": []}, "mark": "point"},
  {"width": 112, "height": 111, "view": {"stroke": "#333"}, "title": "CD16", "data": {"name": "hist"}, "transform": [{"filter": "datum.m === 'CD16'"}],
   "encoding": {"x": {"field": "u", "type": "quantitative", "scale": {"domain": [-1.29, 3.92], "nice": false, "zero": false}, "axis": {"values": [0,0.98,2.53,3.88], "labelExpr": "datum.value === 0 ? '0' : datum.value < 1.5 ? '10³' : datum.value < 3 ? '10⁴' : '10⁵'", "title": null, "labelFontSize": 5.5, "tickSize": 2, "labelPadding": 1, "domain": false}},
     "y": {"field": "n", "type": "quantitative", "scale": {"domain": [0, 335], "nice": false}, "axis": {"values": [0,100,200,300], "labelFontSize": 5.5, "tickSize": 2, "labelPadding": 1, "domain": false, "title": null}}},
   "layer": [
     {"transform": [{"filter": "datum.s === 'neg'"}], "mark": {"type": "area", "interpolate": "monotone", "fill": "#c4c4c4", "stroke": "#8a8a8a", "strokeWidth": 0.8, "clip": true}},
     {"transform": [{"filter": "datum.s === 'pos'"}], "mark": {"type": "area", "interpolate": "monotone", "fill": "#88d066", "fillOpacity": 0.75, "stroke": "#54b027", "strokeWidth": 0.8, "clip": true}}
   ]},

  {"width": 112, "height": 111, "view": {"stroke": "#333"}, "title": "CD96", "data": {"name": "hist"}, "transform": [{"filter": "datum.m === 'CD96'"}],
   "encoding": {"x": {"field": "u", "type": "quantitative", "scale": {"domain": [-1.0, 4.2], "nice": false, "zero": false}, "axis": {"values": [0,2,3,4], "labelExpr": "datum.value === 0 ? '0' : datum.value === 2 ? '10⁴' : datum.value === 3 ? '10⁵' : '10⁶'", "labelFontSize": 5.5, "tickSize": 2, "labelPadding": 1, "domain": false, "title": "──► Intensity", "titleFontSize": 12.5, "titleX": -26, "titleY": 22, "titleAlign": "left", "titleBaseline": "middle", "titleAngle": 0}},
     "y": {"field": "n", "type": "quantitative", "scale": {"domain": [0, 395], "nice": false}, "axis": {"values": [0,100,200,300], "labelFontSize": 5.5, "tickSize": 2, "labelPadding": 1, "domain": false, "title": "──► Count", "titleFontSize": 12.5, "titleX": -26, "titleY": 133, "titleAlign": "left", "titleBaseline": "middle", "titleAngle": 270}}},
   "layer": [
     {"transform": [{"filter": "datum.s === 'neg'"}], "mark": {"type": "area", "interpolate": "monotone", "fill": "#c4c4c4", "stroke": "#8a8a8a", "strokeWidth": 0.8, "clip": true}},
     {"transform": [{"filter": "datum.s === 'pos'"}], "mark": {"type": "area", "interpolate": "monotone", "fill": "#b65f5f", "fillOpacity": 0.75, "stroke": "#a3161c", "strokeWidth": 0.8, "clip": true}}
   ]},
  {"width": 14.4, "height": 176, "data": {"values": []}, "mark": "point"},
  {"width": 112, "height": 111, "view": {"stroke": "#333"}, "title": "CD158", "data": {"name": "hist"}, "transform": [{"filter": "datum.m === 'CD158'"}],
   "encoding": {"x": {"field": "u", "type": "quantitative", "scale": {"domain": [-1.22, 3.98], "nice": false, "zero": false}, "axis": {"values": [-1.04,0,0.98,2.45,3.72], "labelExpr": "datum.value < -0.5 ? '-10³' : datum.value === 0 ? '0' : datum.value < 1.5 ? '10³' : datum.value < 3 ? '10⁴' : '10⁵'", "title": null, "labelFontSize": 5.5, "tickSize": 2, "labelPadding": 1, "domain": false}},
     "y": {"field": "n", "type": "quantitative", "scale": {"domain": [0, 985], "nice": false}, "axis": {"values": [0,200,400,600,800], "labelFontSize": 5.5, "tickSize": 2, "labelPadding": 1, "domain": false, "title": null}}},
   "layer": [
     {"transform": [{"filter": "datum.s === 'neg'"}], "mark": {"type": "area", "interpolate": "monotone", "fill": "#c4c4c4", "stroke": "#8a8a8a", "strokeWidth": 0.8, "clip": true}},
     {"transform": [{"filter": "datum.s === 'pos'"}], "mark": {"type": "area", "interpolate": "monotone", "fill": "#b65f5f", "fillOpacity": 0.75, "stroke": "#a3161c", "strokeWidth": 0.8, "clip": true}}
   ]},
  {"width": 14.4, "height": 1, "data": {"values": []}, "mark": "point"},
  {"width": 112, "height": 111, "view": {"stroke": "#333"}, "title": "NKG2A", "data": {"name": "hist"}, "transform": [{"filter": "datum.m === 'NKG2A'"}],
   "encoding": {"x": {"field": "u", "type": "quantitative", "scale": {"domain": [-1.0, 4.2], "nice": false, "zero": false}, "axis": {"values": [0,2,3,4], "labelExpr": "datum.value === 0 ? '0' : datum.value === 2 ? '10⁴' : datum.value === 3 ? '10⁵' : '10⁶'", "title": null, "labelFontSize": 5.5, "tickSize": 2, "labelPadding": 1, "domain": false}},
     "y": {"field": "n", "type": "quantitative", "scale": {"domain": [0, 509], "nice": false}, "axis": {"values": [0,100,200,300,400,500], "labelFontSize": 5.5, "tickSize": 2, "labelPadding": 1, "domain": false, "title": null}}},
   "layer": [
     {"transform": [{"filter": "datum.s === 'neg'"}], "mark": {"type": "area", "interpolate": "monotone", "fill": "#c4c4c4", "stroke": "#8a8a8a", "strokeWidth": 0.8, "clip": true}},
     {"transform": [{"filter": "datum.s === 'pos'"}], "mark": {"type": "area", "interpolate": "monotone", "fill": "#b65f5f", "fillOpacity": 0.75, "stroke": "#a3161c", "strokeWidth": 0.8, "clip": true}}
   ]},
  {"width": 14.4, "height": 1, "data": {"values": []}, "mark": "point"},
  {"width": 112, "height": 111, "view": {"stroke": "#333"}, "title": "TIGIT", "data": {"name": "hist"}, "transform": [{"filter": "datum.m === 'TIGIT'"}],
   "encoding": {"x": {"field": "u", "type": "quantitative", "scale": {"domain": [-1.3, 3.9], "nice": false, "zero": false}, "axis": {"values": [0,0.98,2.53,3.88], "labelExpr": "datum.value === 0 ? '0' : datum.value < 1.5 ? '10³' : datum.value < 3 ? '10⁴' : '10⁵'", "title": null, "labelFontSize": 5.5, "tickSize": 2, "labelPadding": 1, "domain": false}},
     "y": {"field": "n", "type": "quantitative", "scale": {"domain": [0, 284], "nice": false}, "axis": {"values": [0,50,100,150,200,250], "labelFontSize": 5.5, "tickSize": 2, "labelPadding": 1, "domain": false, "title": null}}},
   "layer": [
     {"transform": [{"filter": "datum.s === 'neg'"}], "mark": {"type": "area", "interpolate": "monotone", "fill": "#c4c4c4", "stroke": "#8a8a8a", "strokeWidth": 0.8, "clip": true}},
     {"transform": [{"filter": "datum.s === 'pos'"}], "mark": {"type": "area", "interpolate": "monotone", "fill": "#b65f5f", "fillOpacity": 0.75, "stroke": "#a3161c", "strokeWidth": 0.8, "clip": true}}
   ]},
  {"width": 14.4, "height": 1, "data": {"values": []}, "mark": "point"},
  {"width": 112, "height": 111, "view": {"stroke": "#333"}, "title": "Siglec-7", "data": {"name": "hist"}, "transform": [{"filter": "datum.m === 'Siglec-7'"}],
   "encoding": {"x": {"field": "u", "type": "quantitative", "scale": {"domain": [-1.0, 4.2], "nice": false, "zero": false}, "axis": {"values": [0,2,3,4], "labelExpr": "datum.value === 0 ? '0' : datum.value === 2 ? '10⁴' : datum.value === 3 ? '10⁵' : '10⁶'", "title": null, "labelFontSize": 5.5, "tickSize": 2, "labelPadding": 1, "domain": false}},
     "y": {"field": "n", "type": "quantitative", "scale": {"domain": [0, 484], "nice": false}, "axis": {"values": [0,100,200,300,400], "labelFontSize": 5.5, "tickSize": 2, "labelPadding": 1, "domain": false, "title": null}}},
   "layer": [
     {"transform": [{"filter": "datum.s === 'neg'"}], "mark": {"type": "area", "interpolate": "monotone", "fill": "#c4c4c4", "stroke": "#8a8a8a", "strokeWidth": 0.8, "clip": true}},
     {"transform": [{"filter": "datum.s === 'pos'"}], "mark": {"type": "area", "interpolate": "monotone", "fill": "#b65f5f", "fillOpacity": 0.75, "stroke": "#a3161c", "strokeWidth": 0.8, "clip": true}}
   ]},
  {"width": 14.4, "height": 1, "data": {"values": []}, "mark": "point"},
  {"width": 112, "height": 111, "view": {"stroke": "#333"}, "title": "PD-1", "data": {"name": "hist"}, "transform": [{"filter": "datum.m === 'PD-1'"}],
   "encoding": {"x": {"field": "u", "type": "quantitative", "scale": {"domain": [-1.0, 4.2], "nice": false, "zero": false}, "axis": {"values": [0,2,3,4], "labelExpr": "datum.value === 0 ? '0' : datum.value === 2 ? '10⁴' : datum.value === 3 ? '10⁵' : '10⁶'", "title": null, "labelFontSize": 5.5, "tickSize": 2, "labelPadding": 1, "domain": false}},
     "y": {"field": "n", "type": "quantitative", "scale": {"domain": [0, 365], "nice": false}, "axis": {"values": [0,100,200,300], "labelFontSize": 5.5, "tickSize": 2, "labelPadding": 1, "domain": false, "title": null}}},
   "layer": [
     {"transform": [{"filter": "datum.s === 'neg'"}], "mark": {"type": "area", "interpolate": "monotone", "fill": "#c4c4c4", "stroke": "#8a8a8a", "strokeWidth": 0.8, "clip": true}},
     {"transform": [{"filter": "datum.s === 'pos'"}], "mark": {"type": "area", "interpolate": "monotone", "fill": "#b65f5f", "fillOpacity": 0.75, "stroke": "#a3161c", "strokeWidth": 0.8, "clip": true}}
   ]},

  {
    "width": 112, "height": 114,
    "title": {"text": "C", "anchor": "start", "frame": "group", "fontSize": 17, "dx": -30, "dy": 15},
    "data": {"name": "c14"},
    "encoding": {
      "x": {"field": "x", "type": "quantitative", "scale": {"domain": [0,4], "nice": false, "range": [43, 215]}, "axis": {"values": [0,1,2,3,4], "labelFontSize": 12.5, "tickSize": 5, "labelPadding": 2, "title": "Day 14", "titleFontSize": 12.5, "titleX": 61, "titleY": -117, "titleAlign": "left", "titleBaseline": "middle"}},
      "color": {"field": "s", "type": "nominal", "scale": {"domain": ["NK","EL"], "range": ["#283cf0","#eb321e"]},
        "legend": {"orient": "none", "legendX": 155, "legendY": 72, "title": null, "labelFontSize": 12.5, "labelOffset": 6, "rowPadding": 7, "symbolSize": 40, "symbolOpacity": 1, "labelExpr": "datum.label === 'NK' ? 'NK MACS' : 'EL837'"}}
    },
    "layer": [
      {"mark": {"type": "rule", "strokeWidth": 1.2, "opacity": 0.6},
       "encoding": {"y": {"field": "lo", "type": "quantitative", "scale": {"domain": [0,100], "nice": false}, "axis": {"values": [0,20,40,60,80,100], "labelOverlap": false, "labelFontSize": 12.5, "tickSize": 5, "labelPadding": 2, "offset": -43, "title": "% target lysis", "titleFontSize": 12.5, "titleX": -50, "titleY": 129, "titleAlign": "center", "titleBaseline": "middle"}}, "y2": {"field": "hi"}}},
      {"mark": {"type": "tick", "orient": "horizontal", "size": 9, "thickness": 1.2, "opacity": 0.6},
       "encoding": {"y": {"field": "hi", "type": "quantitative", "scale": {"domain": [0,100], "nice": false}}}},
      {"mark": {"type": "tick", "orient": "horizontal", "size": 9, "thickness": 1.2, "opacity": 0.6},
       "encoding": {"y": {"field": "lo", "type": "quantitative", "scale": {"domain": [0,100], "nice": false}}}},
      {"mark": {"type": "line", "strokeWidth": 1.5},
       "encoding": {"y": {"field": "y", "type": "quantitative", "scale": {"domain": [0,100], "nice": false}}}},
      {"mark": {"type": "point", "filled": true, "size": 30, "opacity": 1},
       "encoding": {"y": {"field": "y", "type": "quantitative", "scale": {"domain": [0,100], "nice": false}}, "shape": {"field": "s", "type": "nominal", "scale": {"domain": ["NK","EL"], "range": ["circle","square"]},
         "legend": {"orient": "none", "legendX": 155, "legendY": 72, "title": null, "labelFontSize": 12.5, "labelOffset": 6, "rowPadding": 7, "symbolSize": 40, "symbolOpacity": 1, "labelExpr": "datum.label === 'NK' ? 'NK MACS' : 'EL837'"}}}}
    ]
  },
  {"width": 14.4, "height": 151, "data": {"values": []}, "mark": "point"},
  {"width": 1, "height": 1, "data": {"values": []}, "mark": "point"},
  {"width": 1, "height": 1, "data": {"values": []}, "mark": "point"},
  {"width": 1, "height": 1, "data": {"values": []}, "mark": "point"},
  {"width": 1, "height": 1, "data": {"values": []}, "mark": "point"},
  {
    "width": 112, "height": 151,
    "title": {"text": "D", "anchor": "start", "frame": "group", "fontSize": 17, "dx": -45, "dy": 5},
    "encoding": {"x": {"field": "m", "type": "nominal", "scale": {"domain": ["DNAM-1","NKG2D","NKp46","CD16","CD96","CD158","NKG2A","TIGIT","Siglec-7","PD-1"], "range": [12.8, 354.8], "paddingInner": 0.42, "paddingOuter": 0.15}, "axis": {"title": null, "labelAngle": -45, "labelFontSize": 12, "tickSize": 4, "labelPadding": 2, "offset": 91}}},
    "resolve": {"scale": {"xOffset": "independent"}},
    "layer": [
      {"data": {"name": "d"}, "mark": {"type": "bar", "stroke": "black", "strokeWidth": 0.8},
       "encoding": {"xOffset": {"field": "g", "type": "nominal", "scale": {"domain": ["P","I"], "paddingInner": 0.35, "paddingOuter": 0}},
         "y": {"field": "v", "type": "quantitative", "scale": {"domain": [0,120], "nice": false, "range": [242, 72]}, "axis": {"values": [0,25,50,75,100], "labelOverlap": false, "labelBound": false, "labelFlush": false, "labelSeparation": 0, "title": "% positive", "labelFontSize": 12, "titleFontSize": 12.5, "tickSize": 5, "labelPadding": 3, "titlePadding": 6, "offset": -12.8}},
         "fill": {"field": "g", "type": "nominal", "scale": {"domain": ["P","I"], "range": ["#c9c9c9","#4a8ff5"]},
           "legend": {"orient": "none", "legendX": 4.8, "legendY": 20, "direction": "horizontal", "title": "Day 14 after FACS", "titleOrient": "left", "titleFontSize": 14, "titlePadding": 22, "labelFontSize": 12.5, "labelOffset": 4, "columnPadding": 12, "symbolType": "M-1,-0.5H1V0.5H-1Z", "symbolSize": 225, "symbolStrokeColor": "black", "symbolStrokeWidth": 0.9, "labelExpr": "datum.label === 'P' ? 'Parental' : 'Isolated CD96⁻'"}}}},
      {"data": {"name": "d"}, "mark": {"type": "rule", "color": "black", "strokeWidth": 1},
       "encoding": {"xOffset": {"field": "g", "type": "nominal", "scale": {"domain": ["P","I"], "paddingInner": 0.35, "paddingOuter": 0}},
         "y": {"field": "lo", "type": "quantitative", "scale": {"domain": [0,120], "nice": false, "range": [242, 72]}, "axis": {"values": [0,25,50,75,100], "labelOverlap": false}}, "y2": {"field": "hi"}}},
      {"data": {"name": "d"}, "mark": {"type": "tick", "orient": "horizontal", "size": 5, "thickness": 1, "color": "black"},
       "encoding": {"xOffset": {"field": "g", "type": "nominal", "scale": {"domain": ["P","I"], "paddingInner": 0.35, "paddingOuter": 0}},
         "y": {"field": "hi", "type": "quantitative", "scale": {"domain": [0,120], "nice": false, "range": [242, 72]}, "axis": {"values": [0,25,50,75,100], "labelOverlap": false}}}},
      {"data": {"name": "d"}, "mark": {"type": "tick", "orient": "horizontal", "size": 5, "thickness": 1, "color": "black"},
       "encoding": {"xOffset": {"field": "g", "type": "nominal", "scale": {"domain": ["P","I"], "paddingInner": 0.35, "paddingOuter": 0}},
         "y": {"field": "lo", "type": "quantitative", "scale": {"domain": [0,120], "nice": false, "range": [242, 72]}, "axis": {"values": [0,25,50,75,100], "labelOverlap": false}}}},
      {"data": {"name": "dp"}, "transform": [{"calculate": "datum.g + '|' + datum.r", "as": "k"}],
       "mark": {"type": "point", "shape": "circle", "filled": true, "fill": "white", "stroke": "black", "strokeWidth": 0.9, "size": 20, "opacity": 1},
       "encoding": {"xOffset": {"field": "k", "type": "nominal", "scale": {"domain": ["P|1","P|2","P|3","I|1","I|2","I|3"], "paddingInner": 0, "paddingOuter": 0}},
         "y": {"field": "v", "type": "quantitative", "scale": {"domain": [0,120], "nice": false, "range": [242, 72]}, "axis": {"values": [0,25,50,75,100], "labelOverlap": false}}}},
      {"data": {"name": "ds"}, "mark": {"type": "tick", "orient": "horizontal", "size": 12, "thickness": 1, "color": "#888"},
       "encoding": {"y": {"field": "v", "type": "quantitative", "scale": {"domain": [0,120], "nice": false, "range": [242, 72]}, "axis": {"values": [0,25,50,75,100], "labelOverlap": false}}}},
      {"data": {"name": "ds"}, "mark": {"type": "text", "baseline": "alphabetic", "dy": 4, "fontSize": 13, "fontWeight": "bold"},
       "encoding": {"y": {"field": "v", "type": "quantitative", "scale": {"domain": [0,120], "nice": false, "range": [242, 72]}, "axis": {"values": [0,25,50,75,100], "labelOverlap": false}}, "text": {"field": "lab"}}}
    ]
  },
  {"width": 1, "height": 1, "data": {"values": []}, "mark": "point"},
  {"width": 1, "height": 1, "data": {"values": []}, "mark": "point"},
  {"width": 1, "height": 1, "data": {"values": []}, "mark": "point"},
  {"width": 1, "height": 1, "data": {"values": []}, "mark": "point"},

  {
    "width": 112, "height": 114,
    "data": {"name": "c28"},
    "encoding": {
      "x": {"field": "x", "type": "quantitative", "scale": {"domain": [0,4], "nice": false, "range": [43, 215]}, "axis": {"values": [0,1,2,3,4], "labelFontSize": 12.5, "tickSize": 5, "labelPadding": 2, "title": "NK : K562 ratio", "titleFontSize": 12.5, "titlePadding": 4}},
      "color": {"field": "s", "type": "nominal", "scale": {"domain": ["NK","EL"], "range": ["#283cf0","#eb321e"]},
        "legend": {"orient": "none", "legendX": 155, "legendY": 70, "title": null, "labelFontSize": 12.5, "labelOffset": 6, "rowPadding": 7, "symbolSize": 40, "symbolOpacity": 1, "labelExpr": "datum.label === 'NK' ? 'NK MACS, 1000 U/ml IL-2' : 'EL837, 1000 U/ml IL-2'"}}
    },
    "layer": [
      {"mark": {"type": "rule", "strokeWidth": 1.2, "opacity": 0.6},
       "encoding": {"y": {"field": "lo", "type": "quantitative", "scale": {"domain": [0,100], "nice": false}, "axis": {"values": [0,20,40,60,80,100], "labelOverlap": false, "labelFontSize": 12.5, "tickSize": 5, "labelPadding": 2, "offset": -43, "title": "Day 28", "titleFontSize": 12.5, "titleAngle": 0, "titleX": 18, "titleY": -3, "titleAlign": "left", "titleBaseline": "middle"}}, "y2": {"field": "hi"}}},
      {"mark": {"type": "tick", "orient": "horizontal", "size": 9, "thickness": 1.2, "opacity": 0.6},
       "encoding": {"y": {"field": "hi", "type": "quantitative", "scale": {"domain": [0,100], "nice": false}}}},
      {"mark": {"type": "tick", "orient": "horizontal", "size": 9, "thickness": 1.2, "opacity": 0.6},
       "encoding": {"y": {"field": "lo", "type": "quantitative", "scale": {"domain": [0,100], "nice": false}}}},
      {"mark": {"type": "line", "strokeWidth": 1.5},
       "encoding": {"y": {"field": "y", "type": "quantitative", "scale": {"domain": [0,100], "nice": false}}}},
      {"mark": {"type": "point", "filled": true, "size": 30, "opacity": 1},
       "encoding": {"y": {"field": "y", "type": "quantitative", "scale": {"domain": [0,100], "nice": false}}, "shape": {"field": "s", "type": "nominal", "scale": {"domain": ["NK","EL"], "range": ["circle","square"]},
         "legend": {"orient": "none", "legendX": 155, "legendY": 70, "title": null, "labelFontSize": 12.5, "labelOffset": 6, "rowPadding": 7, "symbolSize": 40, "symbolOpacity": 1, "labelExpr": "datum.label === 'NK' ? 'NK MACS, 1000 U/ml IL-2' : 'EL837, 1000 U/ml IL-2'"}}}}
    ]
  }
]
}
